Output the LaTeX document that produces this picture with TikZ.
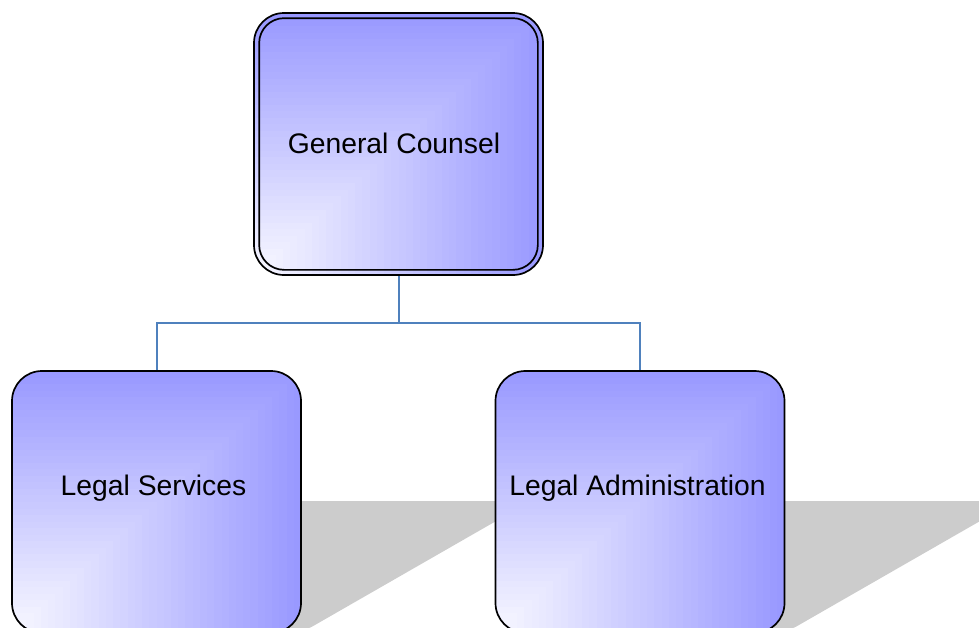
\documentclass[tikz,border=0pt]{standalone}
\usepackage{fontspec}
\setmainfont{Liberation Sans}
\usetikzlibrary{calc}

\definecolor{boxblue}{RGB}{153,153,255}
\definecolor{boxlight}{RGB}{250,250,255}
\definecolor{shadowgray}{RGB}{204,204,204}
\definecolor{linkblue}{RGB}{79,129,189}

\tikzset{
  % fill that fades from the lower left corner outwards in L-shaped bands
  cornerfade/.style={path picture={
    \foreach \i in {40,39,...,1}{
      \pgfmathtruncatemacro\pct{round(100*\i/40)}
      \fill[sharp corners, boxblue!\pct!boxlight]
        (path picture bounding box.south west) rectangle
        ($(path picture bounding box.south west)!\i/40!(path picture bounding box.north east)$);
    }}},
  orgbox/.style={cornerfade, draw=black, line width=1.7pt, rounded corners=30pt,
    minimum width=289pt, minimum height=262pt, inner sep=0pt},
  boxtext/.style={font=\fontsize{28.3}{33}\selectfont, text=black, inner sep=0pt},
  floorshadow/.style={fill=shadowgray, rounded corners=14pt},
  link/.style={draw=linkblue, line width=2pt}
}

\begin{document}
\begin{tikzpicture}[x=1pt, y=-1pt]
  \useasboundingbox (0,0) rectangle (979,627);
  \clip (0,0) rectangle (979,627);

  % shadows cast on the floor by the two lower boxes
  \fill[floorshadow] (150,501) -- (531,501) -- (301,633) -- (150,633) -- cycle;
  \fill[floorshadow] (634,501) -- (1015,501) -- (785,633) -- (634,633) -- cycle;

  % top box with a double outline
  \node[orgbox] (gc) at (398.5,144) {};
  \draw[black, line width=1.7pt, rounded corners=25pt]
    ($(gc.south west)+(6,-6)$) rectangle ($(gc.north east)+(-6,6)$);
  \node[boxtext] (gctext) at (394,143) {General Counsel};

  % lower boxes
  \node[orgbox] (ls) at (156.5,502) {};
  \node[boxtext] (lstext) at (153.5,488) {Legal Services};
  \node[orgbox] (la) at (640,502) {};
  \node[boxtext] (latext) at (637.5,488) {Legal Administration};

  % connectors
  \draw[link] (gc.south) -- ++(0,47) coordinate (split) -| (ls.north);
  \draw[link] (split) -| (la.north);
\end{tikzpicture}
\end{document}
